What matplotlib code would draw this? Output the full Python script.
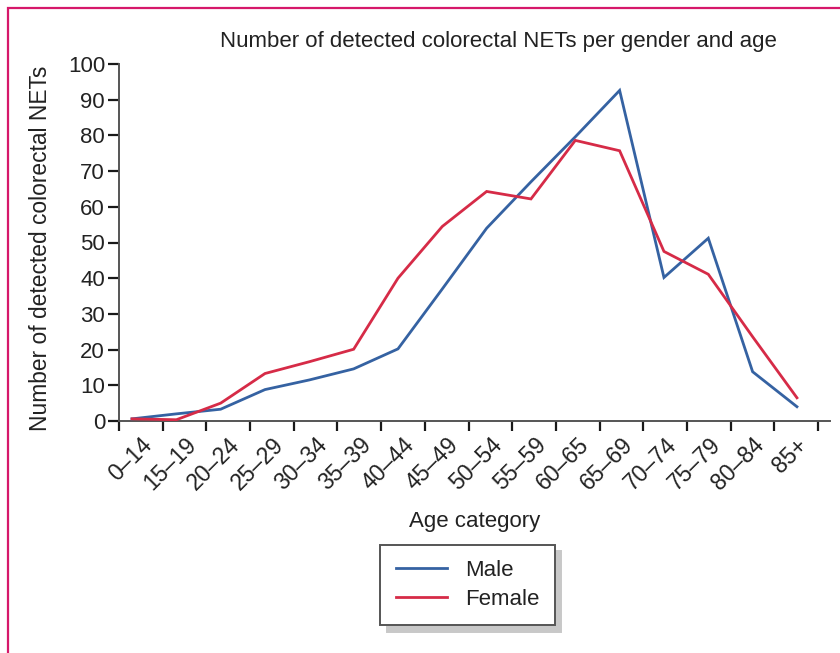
import matplotlib
matplotlib.use("Agg")
import matplotlib.pyplot as plt
from matplotlib.patches import Rectangle
from matplotlib.ticker import FixedLocator, NullFormatter, FixedFormatter

plt.rcParams['font.family'] = ['Liberation Sans', 'DejaVu Sans']

categories = ["0–14", "15–19", "20–24", "25–29", "30–34", "35–39", "40–44", "45–49",
              "50–54", "55–59", "60–65", "65–69", "70–74", "75–79", "80–84", "85+"]
male = [0.6, 2.0, 3.3, 8.8, 11.5, 14.6, 20.2, 37.0, 54.0, 67.0, 79.6, 92.6, 40.2, 51.2, 13.8, 4.0]
female = [0.6, 0.35, 5.0, 13.3, 16.6, 20.1, 40.0, 54.5, 64.3, 62.2, 78.6, 75.7, 47.5, 41.1, 23.6, 6.5]
yticks = [0, 10, 20, 30, 40, 50, 60, 70, 80, 90, 100]

title = "Number of detected colorectal NETs per gender and age"
ylabel = "Number of detected colorectal NETs"
xlabel = "Age category"

blue = "#3562a2"
red = "#d62b47"
axis_col = "#555555"
tick_col = "#1a1a1a"
text_col = "#222222"

W, H = 840, 653
fig = plt.figure(figsize=(W / 100, H / 100), dpi=100)

# pink frame
fig.patches.append(Rectangle((8 / W, -0.1), 1.2, (H - 8) / H + 0.1, transform=fig.transFigure,
                             fill=False, edgecolor="#d6186a", linewidth=1.6))

ax = fig.add_axes([119 / W, (H - 421) / H, 711 / W, 357 / H])
n = len(categories)
step = 43.69
ax.set_xlim(-0.5, -0.5 + 711 / step)
ax.set_ylim(0, 100)

ax.xaxis.set_major_locator(FixedLocator([i - 0.5 for i in range(n + 1)]))
ax.xaxis.set_major_formatter(NullFormatter())
ax.xaxis.set_minor_locator(FixedLocator(list(range(n))))
ax.xaxis.set_minor_formatter(FixedFormatter(categories))
ax.tick_params(axis='x', which='major', length=7.5, width=1.6, color=tick_col, direction='out')
ax.tick_params(axis='x', which='minor', length=0, labelsize=16.5, pad=9, labelcolor=text_col)
for lab in ax.get_xticklabels(minor=True):
    lab.set_rotation(45)
    lab.set_ha('right')
    lab.set_va('top')
    lab.set_rotation_mode('anchor')

ax.set_yticks(yticks)
ax.set_yticklabels([str(v) for v in yticks])
ax.tick_params(axis='y', length=8, width=1.6, color=tick_col, labelsize=16, pad=2, labelcolor=text_col)

for s in ['top', 'right']:
    ax.spines[s].set_visible(False)
for s in ['left', 'bottom']:
    ax.spines[s].set_color(axis_col)
    ax.spines[s].set_linewidth(1.4)

# data lines on a twin x-axis (points span slightly differently from tick grid)
ax2 = ax.twiny()
pstep = 44.33
ax2.set_xlim(-13 / pstep, -13 / pstep + 711 / pstep)
ax2.set_ylim(0, 100)
ax2.axis('off')
idx = list(range(n))
l1, = ax2.plot(idx, male, color=blue, lw=2.0, label="Male", solid_joinstyle='miter')
l2, = ax2.plot(idx, female, color=red, lw=2.0, label="Female", solid_joinstyle='miter')

fig.text(498 / W, 1 - 41 / H, title, ha='center', va='center', fontsize=16, color=text_col)
fig.text(41 / W, 1 - 248 / H, ylabel, ha='center', va='center', rotation=90, fontsize=16.4, color=text_col)
fig.text(475 / W, 1 - 522 / H, xlabel, ha='center', va='center', fontsize=16, color=text_col)

leg = ax.legend([l1, l2], ["Male", "Female"], loc='center', bbox_to_anchor=(467.5 / W, 1 - 585 / H),
                bbox_transform=fig.transFigure, fancybox=False, frameon=True, fontsize=16,
                handlelength=2.3, handletextpad=0.8, borderpad=0.7, labelspacing=0.35,
                shadow={'ox': 4.5, 'oy': -4.5, 'color': '#c8c8c8', 'alpha': 1.0}, borderaxespad=0)
leg.get_frame().set_edgecolor(axis_col)
leg.get_frame().set_linewidth(1.4)
for t in leg.get_texts():
    t.set_color(text_col)

fig.savefig("out.png", dpi=100)
